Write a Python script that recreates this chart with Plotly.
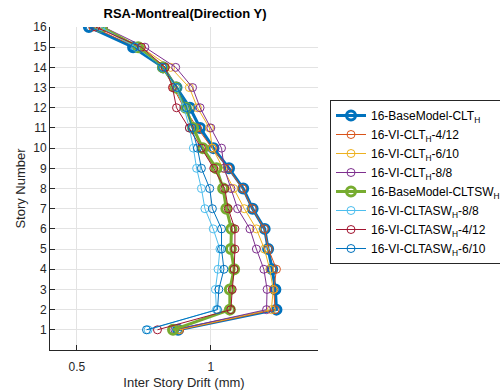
import plotly.graph_objects as go

# Story levels
stories = list(range(1, 17))

# Inter-story drift (mm) per story, stories 1..16
base_clt = [0.878, 1.245, 1.241, 1.229, 1.214, 1.201, 1.156, 1.121, 1.068, 1.010, 0.960, 0.922, 0.872, 0.822, 0.710, 0.545]
vi_clt_4_12 = [0.884, 1.240, 1.235, 1.245, 1.215, 1.200, 1.155, 1.118, 1.065, 1.005, 0.950, 0.900, 0.860, 0.830, 0.720, 0.560]
vi_clt_6_10 = [0.880, 1.226, 1.233, 1.220, 1.200, 1.170, 1.125, 1.085, 1.045, 1.006, 0.995, 0.950, 0.920, 0.850, 0.740, 0.580]
vi_clt_8_8 = [0.866, 1.208, 1.210, 1.198, 1.170, 1.146, 1.100, 1.075, 1.050, 1.040, 1.000, 0.960, 0.932, 0.869, 0.754, 0.600]
base_cltsw = [0.859, 1.071, 1.071, 1.087, 1.075, 1.077, 1.058, 1.046, 1.021, 0.970, 0.934, 0.907, 0.870, 0.822, 0.729, 0.592]
vi_cltasw_8_8 = [0.766, 1.021, 1.017, 1.027, 1.034, 1.009, 0.978, 0.965, 0.947, 0.935, 0.920, 0.900, 0.870, 0.820, 0.720, 0.590]
vi_cltasw_4_12 = [0.801, 1.075, 1.080, 1.087, 1.090, 1.090, 1.065, 1.052, 1.011, 0.965, 0.920, 0.872, 0.857, 0.830, 0.741, 0.570]
vi_cltasw_6_10 = [0.760, 1.025, 1.030, 1.049, 1.040, 1.040, 1.006, 0.996, 0.965, 0.950, 0.930, 0.910, 0.875, 0.820, 0.715, 0.550]

x_ticks = [0.5, 1]
y_ticks = list(range(1, 17))

series = [
    ("16-BaseModel-CLT<sub>H</sub>", base_clt, "#0072BD", 3.0, 9),
    ("16-VI-CLT<sub>H</sub>-4/12", vi_clt_4_12, "#D95319", 1.0, 8),
    ("16-VI-CLT<sub>H</sub>-6/10", vi_clt_6_10, "#EDB120", 1.0, 8),
    ("16-VI-CLT<sub>H</sub>-8/8", vi_clt_8_8, "#7E2F8E", 1.0, 8),
    ("16-BaseModel-CLTSW<sub>H</sub>", base_cltsw, "#77AC30", 3.0, 9),
    ("16-VI-CLTASW<sub>H</sub>-8/8", vi_cltasw_8_8, "#4DBEEE", 1.0, 8),
    ("16-VI-CLTASW<sub>H</sub>-4/12", vi_cltasw_4_12, "#A2142F", 1.0, 8),
    ("16-VI-CLTASW<sub>H</sub>-6/10", vi_cltasw_6_10, "#0072BD", 1.0, 8),
]

fig = go.Figure()
for name, vals, color, lw, ms in series:
    fig.add_trace(go.Scatter(
        x=vals, y=stories, name=name, mode="lines+markers",
        line=dict(color=color, width=lw),
        marker=dict(symbol="circle-open", size=ms, color=color,
                    line=dict(width=lw if lw > 1 else 1, color=color)),
    ))

axis_font = dict(family="Liberation Sans, Arial, sans-serif", size=12, color="#262626")

# Paper area spans x 50..497; the axes occupy the left part, legend sits to the right.
L, R = 50, 3
paper_w = 500 - L - R
axes_right = 318
legend_left = 330

fig.update_layout(
    width=500, height=392,
    margin=dict(l=L, r=R, t=27, b=42, autoexpand=False),
    paper_bgcolor="white", plot_bgcolor="white",
    font=dict(family="Liberation Sans, Arial, sans-serif", color="#262626"),
    title=dict(text="<b>RSA-Montreal(Direction Y)</b>", x=185 / 500, xanchor="center",
               xref="container", y=1 - 13 / 392, yanchor="middle",
               font=dict(size=13, color="black")),
    xaxis=dict(
        domain=[0, (axes_right - L) / paper_w],
        range=[0.4, 1.4], tickvals=x_ticks, ticktext=["0.5", "1"],
        showgrid=True, gridcolor="#E3E3E3", gridwidth=1,
        zeroline=False, showline=True, linecolor="#262626", linewidth=1,
        ticks="inside", ticklen=5, tickcolor="#262626", tickfont=axis_font,
        ticklabelstandoff=6,
        automargin=False,
        title=dict(text="Inter Story Drift (mm)", font=dict(size=13, color="#262626"), standoff=4),
    ),
    yaxis=dict(
        range=[0, 16], tickvals=y_ticks,
        showgrid=True, gridcolor="#E3E3E3", gridwidth=1,
        zeroline=False, showline=True, linecolor="#262626", linewidth=1,
        ticks="inside", ticklen=5, tickcolor="#262626", tickfont=axis_font,
        automargin=False,
        title=dict(text="Story Number", font=dict(size=13, color="#262626"), standoff=4),
    ),
    legend=dict(
        x=(legend_left - L) / paper_w, xanchor="left", y=(350 - 100) / 323, yanchor="top",
        bordercolor="#262626", borderwidth=1, bgcolor="white",
        font=dict(size=12, color="black"), itemwidth=30,
        tracegroupgap=0,
    ),
)

fig.write_html("out.html")
